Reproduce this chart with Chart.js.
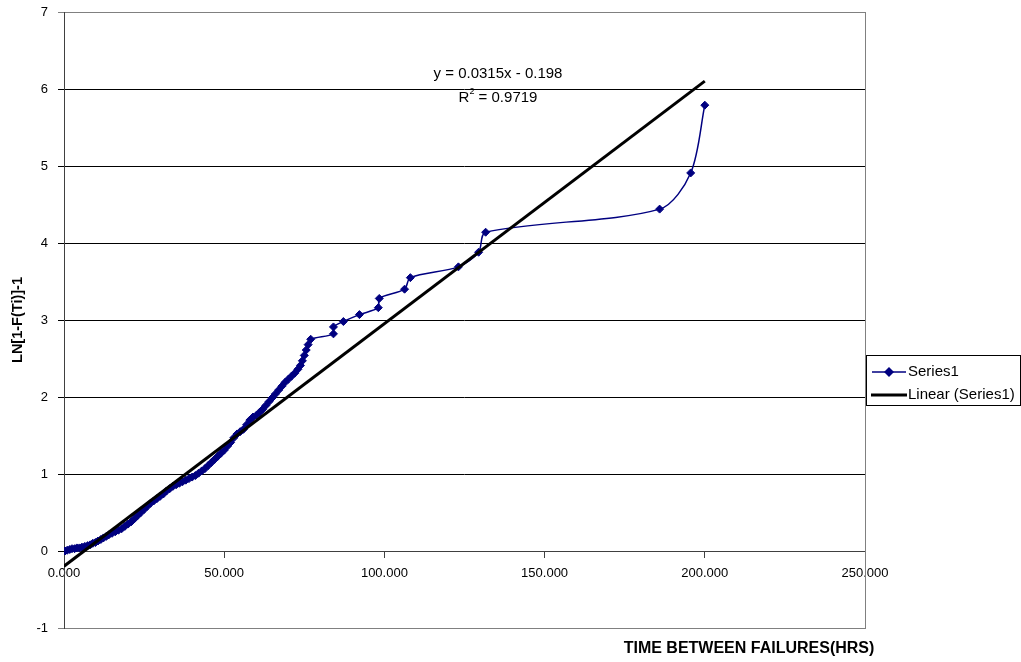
<!DOCTYPE html>
<html>
<head>
<meta charset="utf-8">
<script src="https://cdn.jsdelivr.net/npm/chart.js@4.4.1/dist/chart.umd.min.js"></script>
<style>
	html, body { margin: 0; padding: 0; background: #fff; }
	#wrap { width: 1021px; height: 662px; position: relative; }
</style>
</head>
<body>
<div id="wrap"><canvas id="chart" width="1021" height="662"></canvas></div>
<script>
// ---- data
const timeHrs = [
	0.3, 1.0, 1.8, 2.5, 3.3, 4.0, 4.8, 5.6, 6.5, 7.4,
	8.2, 9.0, 9.8, 10.6, 11.5, 12.3, 13.2, 14.0, 15.0, 16.0,
	17.0, 18.0, 19.0, 20.0, 21.0, 22.0, 23.0, 24.0, 25.0, 26.0,
	27.0, 28.0, 29.0, 30.0, 31.0, 32.0, 33.0, 34.0, 35.0, 36.0,
	37.0, 38.0, 39.0, 40.0, 41.0, 42.0, 43.0, 44.0, 45.0, 46.0,
	47.0, 48.0, 49.0, 50.0, 51.0, 52.0, 53.0, 54.0, 55.0, 56.0,
	57.0, 58.0, 59.0, 60.0, 61.0, 62.0, 63.0, 64.0, 65.0, 66.0,
	67.0, 68.0, 69.0, 70.0, 71.0, 72.0, 73.0, 73.8, 74.4, 75.0,
	75.6, 76.2, 77.0, 84.1, 84.1, 87.2, 92.2, 98.1, 98.4, 106.3,
	108.1, 123.1, 129.4, 131.6, 185.9, 195.6, 200.0
];
const lnValues = [
	0.00, 0.01, 0.02, 0.03, 0.03, 0.04, 0.04, 0.05, 0.06, 0.07,
	0.08, 0.10, 0.11, 0.13, 0.15, 0.17, 0.19, 0.21, 0.23, 0.25,
	0.27, 0.29, 0.32, 0.35, 0.38, 0.42, 0.46, 0.50, 0.54, 0.58,
	0.62, 0.65, 0.68, 0.71, 0.74, 0.78, 0.81, 0.84, 0.86, 0.88,
	0.90, 0.92, 0.94, 0.96, 0.98, 1.01, 1.04, 1.07, 1.11, 1.15,
	1.19, 1.23, 1.27, 1.31, 1.36, 1.41, 1.47, 1.52, 1.55, 1.58,
	1.64, 1.70, 1.74, 1.76, 1.80, 1.84, 1.89, 1.94, 1.99, 2.04,
	2.09, 2.14, 2.19, 2.23, 2.27, 2.31, 2.36, 2.41, 2.47, 2.54,
	2.61, 2.68, 2.75, 2.82, 2.91, 2.98, 3.07, 3.16, 3.28, 3.40,
	3.55, 3.69, 3.88, 4.14, 4.44, 4.91, 5.79
];

// trendline as printed on the chart
const trendSlope = 0.0315;
const trendIntercept = -0.198;
const trendRange = [ 0, 200 ];
const trendEquation = 'y = 0.0315x - 0.198';
const trendR2 = ' = 0.9719';

const xTicks = [ 0, 50, 100, 150, 200, 250 ];
const yTicks = [ -1, 0, 1, 2, 3, 4, 5, 6, 7 ];

const seriesNames = [ 'Series1', 'Linear (Series1)' ];

const NAVY = '#000080';
const FONT = 'Arial, "Liberation Sans", sans-serif';

const seriesPoints = timeHrs.map( ( x, i ) => ( { x, y: lnValues[ i ] } ) );
const trendPoints = trendRange.map( ( x ) => ( { x, y: trendSlope * x + trendIntercept } ) );

// ---- extras: frame, titles, equation and legend
const extrasPlugin = {
	id: 'extras',
	beforeDatasetsDraw( chart ) {
		const { ctx, chartArea: a } = chart;
		ctx.save();
		ctx.strokeStyle = '#808080';
		ctx.lineWidth = 1;
		ctx.strokeRect( a.left + 0.5, a.top + 0.5, a.right - a.left, a.bottom - a.top );
		ctx.strokeStyle = '#404040';
		ctx.beginPath();
		ctx.moveTo( a.left + 0.5, a.top );
		ctx.lineTo( a.left + 0.5, a.bottom + 1 );
		ctx.stroke();
		ctx.restore();
	},
	afterDraw( chart ) {
		const { ctx } = chart;
		ctx.save();
		ctx.fillStyle = '#000';

		// axis titles
		ctx.textAlign = 'center';
		ctx.textBaseline = 'middle';
		ctx.font = 'bold 16px ' + FONT;
		ctx.fillText( 'TIME BETWEEN FAILURES(HRS)', 749, 649 );
		ctx.save();
		ctx.translate( 18, 320 );
		ctx.rotate( -Math.PI / 2 );
		ctx.font = 'bold 14.5px ' + FONT;
		ctx.fillText( 'LN[1-F(Ti)]-1', 0, 0 );
		ctx.restore();

		// trendline equation
		ctx.font = '15px ' + FONT;
		ctx.fillText( trendEquation, 498, 74 );
		ctx.textAlign = 'left';
		const rW = ctx.measureText( 'R' ).width;
		const restW = ctx.measureText( trendR2 ).width;
		ctx.font = '9px ' + FONT;
		const supW = ctx.measureText( '2' ).width;
		const startX = 498 - ( rW + supW + restW ) / 2;
		ctx.font = '15px ' + FONT;
		ctx.fillText( 'R', startX, 98 );
		ctx.fillText( trendR2, startX + rW + supW, 98 );
		ctx.font = '9px ' + FONT;
		ctx.fillText( '2', startX + rW, 92 );

		// legend
		ctx.strokeStyle = '#000';
		ctx.lineWidth = 1;
		ctx.strokeRect( 866.5, 355.5, 154, 50 );
		ctx.font = '15px ' + FONT;

		ctx.strokeStyle = NAVY;
		ctx.lineWidth = 1.5;
		ctx.beginPath();
		ctx.moveTo( 872, 372 );
		ctx.lineTo( 906, 372 );
		ctx.stroke();
		ctx.fillStyle = NAVY;
		ctx.beginPath();
		ctx.moveTo( 889, 367 );
		ctx.lineTo( 894, 372 );
		ctx.lineTo( 889, 377 );
		ctx.lineTo( 884, 372 );
		ctx.closePath();
		ctx.fill();
		ctx.fillStyle = '#000';
		ctx.fillText( seriesNames[ 0 ], 908, 372 );

		ctx.strokeStyle = '#000';
		ctx.lineWidth = 3;
		ctx.beginPath();
		ctx.moveTo( 871, 395 );
		ctx.lineTo( 907, 395 );
		ctx.stroke();
		ctx.fillText( seriesNames[ 1 ], 908, 395 );

		ctx.restore();
	}
};

new Chart( document.getElementById( 'chart' ), {
	type: 'scatter',
	data: {
		datasets: [
			{
				label: seriesNames[ 0 ],
				data: seriesPoints,
				showLine: true,
				tension: 0.3,
				borderColor: NAVY,
				borderWidth: 1.5,
				backgroundColor: NAVY,
				pointStyle: 'rectRot',
				pointRadius: 4,
				pointBorderWidth: 1,
				pointBorderColor: NAVY,
				pointBackgroundColor: NAVY,
				order: 2
			},
			{
				label: seriesNames[ 1 ],
				data: trendPoints,
				showLine: true,
				borderColor: '#000',
				borderWidth: 3,
				pointRadius: 0,
				order: 1
			}
		]
	},
	options: {
		responsive: false,
		animation: false,
		layout: { padding: { left: 0, top: 12, right: 156, bottom: 34 } },
		plugins: {
			legend: { display: false },
			tooltip: { enabled: false }
		},
		scales: {
			x: {
				type: 'linear',
				position: { y: 0 },
				min: xTicks[ 0 ],
				max: xTicks[ xTicks.length - 1 ],
				afterBuildTicks: ( s ) => { s.ticks = xTicks.map( ( v ) => ( { value: v } ) ); },
				ticks: {
					color: '#000',
					font: { family: FONT, size: 13 },
					padding: 9,
					maxRotation: 0,
					callback: ( v ) => v.toFixed( 3 )
				},
				grid: { drawOnChartArea: false, drawTicks: true, tickLength: 6, color: '#404040' },
				border: { display: true, color: '#404040' }
			},
			y: {
				type: 'linear',
				min: yTicks[ 0 ],
				max: yTicks[ yTicks.length - 1 ],
				afterBuildTicks: ( s ) => { s.ticks = yTicks.map( ( v ) => ( { value: v } ) ); },
				afterFit: ( s ) => {
					s.width = 64;
					s.paddingTop = 0;
					s.paddingBottom = 0;
				},
				ticks: {
					color: '#000',
					font: { family: FONT, size: 13 },
					padding: 10
				},
				grid: {
					tickLength: 6,
					color: ( c ) => ( c.tick && ( c.tick.value === -1 || c.tick.value === 7 ) ) ? '#808080' : '#000'
				},
				border: { display: false }
			}
		}
	},
	plugins: [ extrasPlugin ]
} );
</script>
</body>
</html>
